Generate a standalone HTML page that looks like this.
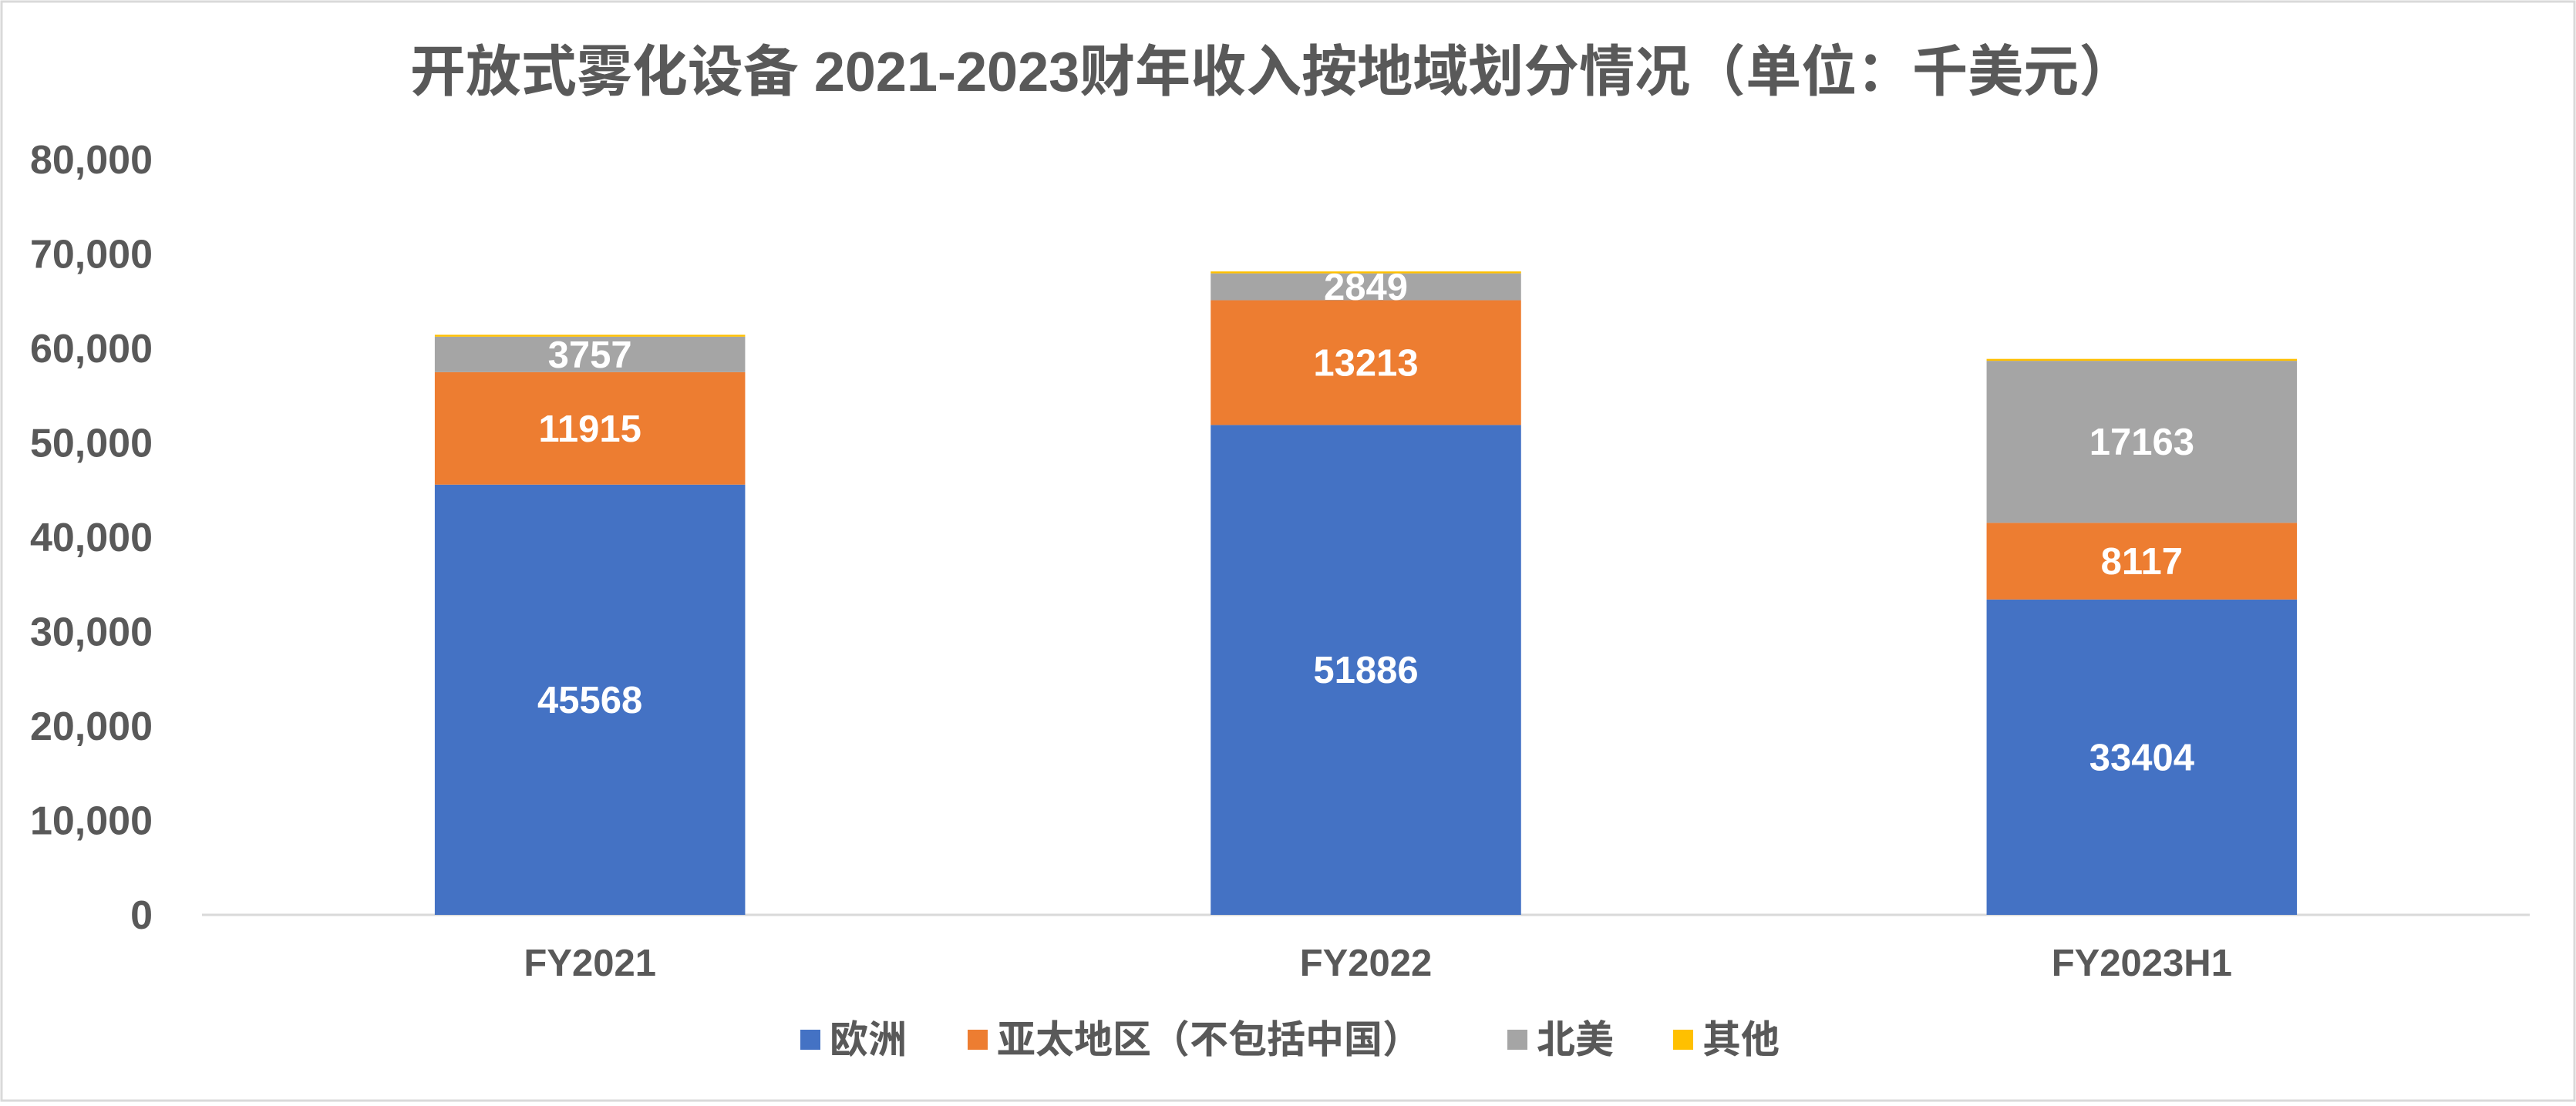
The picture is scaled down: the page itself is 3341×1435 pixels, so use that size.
<!DOCTYPE html>
<html><head><meta charset="utf-8">
<style>
html,body{margin:0;padding:0;background:#fff;}
body{width:3341px;height:1430px;overflow:hidden;font-family:"Liberation Sans","Noto Sans CJK SC",sans-serif;}
svg text{font-family:"Liberation Sans","Noto Sans CJK SC",sans-serif;font-weight:bold;}
</style></head>
<body>
<svg id="chart" width="3341" height="1430" xmlns="http://www.w3.org/2000/svg">
<rect x="2" y="2" width="3337" height="1426" fill="#fff" stroke="#d9d9d9" stroke-width="3"/>
<text x="1650" y="118" font-size="72" fill="#595959" text-anchor="middle">开放式雾化设备 2021-2023财年收入按地域划分情况（单位：千美元）</text>
<g id="plot"></g>
<g id="legend"></g>
</svg>
<script>
const categories = ["FY2021","FY2022","FY2023H1"];
const seriesNames = ["欧洲","亚太地区（不包括中国）","北美","其他"];
const europe = [45568,51886,33404];
const apac = [11915,13213,8117];
const northAmerica = [3757,2849,17163];
const other = [200,200,200];
const yTicks = [0,10000,20000,30000,40000,50000,60000,70000,80000];
const colors = ["#4472c4","#ed7d31","#a5a5a5","#ffc000"];
const series = [europe,apac,northAmerica,other];
const NS="http://www.w3.org/2000/svg";
const plotL=262, plotR=3281, y0=1187, yTop=207, yMax=80000;
const yScale=v=>y0-(v/yMax)*(y0-yTop);
const band=(plotR-plotL)/categories.length;
const xCenter=i=>plotL+band*(i+0.5);
const barW=band*0.4;
const plot=document.getElementById('plot');
function mk(tag,attrs){const e=document.createElementNS(NS,tag);for(const k in attrs)e.setAttribute(k,attrs[k]);return e;}
yTicks.forEach(t=>{
  const tx=mk('text',{x:198,y:yScale(t)+18,'font-size':52,fill:'#595959','text-anchor':'end'});
  tx.textContent=t.toLocaleString('en-US');
  
  
  plot.appendChild(tx);
});
const base=mk('line',{x1:plotL,x2:plotR,y1:y0,y2:y0,stroke:'#d9d9d9','stroke-width':3});


plot.appendChild(base);
categories.forEach((c,i)=>{
  let cum=0;
  series.forEach((s,si)=>{
    const v=s[i];
    const yb=yScale(cum), yt=yScale(cum+v);
    const r=mk('rect',{x:xCenter(i)-barW/2,y:yt,width:barW,height:yb-yt,fill:colors[si]});
    
    
    plot.appendChild(r);
    if(si<3){
      const lt=mk('text',{x:xCenter(i),y:(yb+yt)/2+17,'font-size':49,fill:'#fff','text-anchor':'middle'});
      lt.textContent=String(v);
      
      
      plot.appendChild(lt);
    }
    cum+=v;
  });
  const cl=mk('text',{x:xCenter(i),y:1266,'font-size':49,fill:'#595959','text-anchor':'middle'});
  cl.textContent=c;
  
  
  plot.appendChild(cl);
});
const legend=document.getElementById('legend');
const legX=[1038,1255,1955,2170];
seriesNames.forEach((n,i)=>{
  const sq=mk('rect',{x:legX[i],y:1336,width:26,height:26,fill:colors[i]});
  
  
  legend.appendChild(sq);
  const t=mk('text',{x:legX[i]+38,y:1366,'font-size':50,fill:'#595959'});
  t.textContent=n;
  
  
  legend.appendChild(t);
});
</script>
</body></html>
